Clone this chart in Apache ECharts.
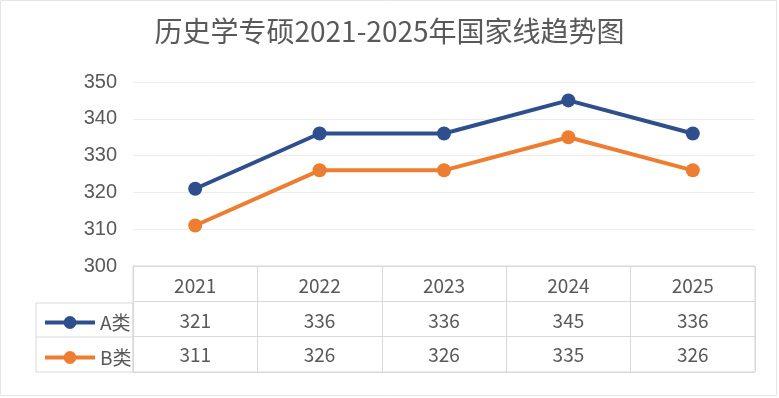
<!DOCTYPE html>
<html>
<head>
<meta charset="utf-8">
<script src="https://cdn.jsdelivr.net/npm/echarts@6/dist/echarts.min.js"></script>
<style>
    html, body { margin: 0; padding: 0; background: #fff; }
    #main { width: 779px; height: 398px; }
</style>
</head>
<body>
<div id="main"></div>
<script>
var years = ['2021', '2022', '2023', '2024', '2025'];
var aValues = [321, 336, 336, 345, 336];
var bValues = [311, 326, 326, 335, 326];
var seriesNames = ['A类', 'B类'];

window.onload = function () {
    var chart = echarts.init(document.getElementById('main'));
    var textColor = '#595959';
    var lineColor = '#d9d9d9';
    var numFont = '"Noto Sans CJK SC", "Noto Sans", sans-serif';

    // 表格里每一行的文字都挂在主网格底部的类目轴上
    function rowAxis(data, margin) {
        return {
            type: 'category',
            gridIndex: 0,
            position: 'bottom',
            offset: 0,
            data: data,
            axisLine: {show: false},
            axisTick: {show: false},
            splitLine: {show: false},
            axisLabel: {
                interval: 0,
                margin: margin,
                verticalAlign: 'middle',
                fontSize: 19,
                color: textColor,
                fontFamily: numFont
            }
        };
    }

    var option = {
        backgroundColor: '#fff',
        animation: false,
        title: {
            text: '历史学专硕2021-2025年国家线趋势图',
            left: 'center',
            top: 12,
            textStyle: {
                fontSize: 28,
                fontWeight: 'normal',
                color: textColor,
                fontFamily: numFont
            }
        },
        legend: {
            data: seriesNames,
            orient: 'vertical',
            left: 38,
            top: 308,
            itemWidth: 50,
            itemHeight: 16,
            itemGap: 16,
            lineStyle: {width: 4},
            textStyle: {fontSize: 19, color: textColor, fontFamily: numFont}
        },
        grid: [
            {left: 133, right: 24, top: 82, bottom: 132},
            {left: 133, right: 24, top: 266, bottom: 26, show: true, borderColor: lineColor, borderWidth: 1}
        ],
        xAxis: [
            rowAxis(years, 20),
            rowAxis(aValues.map(String), 55),
            rowAxis(bValues.map(String), 89),
            {
                type: 'category',
                gridIndex: 1,
                data: years,
                axisLine: {show: false},
                axisTick: {show: false},
                axisLabel: {show: false},
                splitLine: {show: true, lineStyle: {color: lineColor, width: 1}}
            }
        ],
        yAxis: [
            {
                type: 'value',
                gridIndex: 0,
                min: 300,
                max: 350,
                interval: 10,
                axisLine: {show: false},
                axisTick: {show: false},
                splitLine: {lineStyle: {color: '#ededed', width: 1}},
                axisLabel: {
                    margin: 16,
                    fontSize: 20,
                    color: textColor,
                    fontFamily: '"Liberation Sans", Arial, sans-serif'
                }
            },
            {
                type: 'value',
                gridIndex: 1,
                min: 0,
                max: 3,
                interval: 1,
                axisLine: {show: false},
                axisTick: {show: false},
                axisLabel: {show: false},
                splitLine: {lineStyle: {color: lineColor, width: 1}}
            }
        ],
        graphic: [
            {
                type: 'rect',
                shape: {x: 36, y: 303, width: 97, height: 69},
                style: {fill: 'none', stroke: lineColor, lineWidth: 1}
            },
            {
                type: 'line',
                shape: {x1: 36, y1: 337, x2: 133, y2: 337},
                style: {stroke: lineColor, lineWidth: 1}
            },
            {
                type: 'rect',
                shape: {x: 0.5, y: 0.5, width: 776, height: 395},
                style: {fill: 'none', stroke: '#e6e6e6', lineWidth: 1}
            }
        ],
        series: [
            {
                name: seriesNames[0],
                type: 'line',
                xAxisIndex: 0,
                yAxisIndex: 0,
                data: aValues,
                symbol: 'circle',
                symbolSize: 14,
                color: '#2E4F8C',
                lineStyle: {width: 4}
            },
            {
                name: seriesNames[1],
                type: 'line',
                xAxisIndex: 0,
                yAxisIndex: 0,
                data: bValues,
                symbol: 'circle',
                symbolSize: 14,
                color: '#ED7D31',
                lineStyle: {width: 4}
            }
        ]
    };
    chart.setOption(option);
};
</script>
</body>
</html>
